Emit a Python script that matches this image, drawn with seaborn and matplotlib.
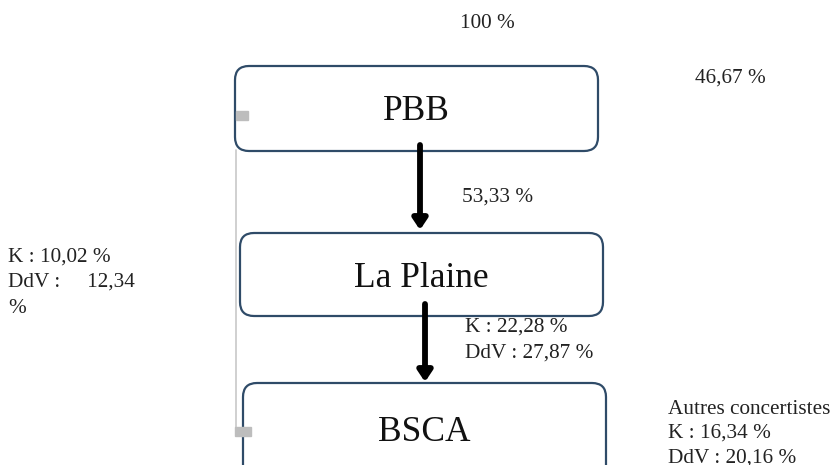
import matplotlib
matplotlib.use("Agg")
import matplotlib.pyplot as plt
from matplotlib.patches import FancyBboxPatch, Rectangle
import seaborn as sns

sns.set_theme(style="white")
plt.rcParams["font.family"] = ["Liberation Serif", "DejaVu Serif"]

# entities of the chain, top to bottom
entities = ["PBB", "La Plaine", "BSCA"]
top_share = "100 %"
side_share = "46,67 %"
flow_share = "53,33 %"
left_note = ["K : 10,02 %", "DdV :     12,34", "%"]
mid_note = ["K : 22,28 %", "DdV : 27,87 %"]
right_note = ["Autres concertistes", "K : 16,34 %", "DdV : 20,16 %"]

# layout (pixel space): x, y, w, h, label offset
boxes = [(235, 66, 363, 85, 45), (240, 233, 363, 83, 45), (243, 383, 363, 100, 49)]
edge = "#2f4b68"

fig = plt.figure(figsize=(8.34, 4.65), dpi=100)
ax = fig.add_axes([0, 0, 1, 1])
ax.set_xlim(0, 834)
ax.set_ylim(465, 0)
ax.axis("off")

# thin grey connector on the left
ax.plot([236, 236], [150, 432], color="#c8c8c8", lw=1.2, zorder=1)

for name, (x, y, w, h, off) in zip(entities, boxes):
    ax.add_patch(FancyBboxPatch((x, y), w, h,
                                boxstyle="round,pad=0,rounding_size=14",
                                fc="white", ec=edge, lw=1.6, zorder=2))
    ax.text(x + w / 2, y + off, name, ha="center", va="center",
            fontsize=25.5, color="#111111", zorder=3)

# small grey markers
ax.add_patch(Rectangle((236, 111), 12, 9, color="#bdbdbd", zorder=4))
ax.add_patch(Rectangle((235, 427), 16, 9, color="#bdbdbd", zorder=4))

# arrows
for x0, y0, y1 in [(420, 145, 230), (425, 304, 382)]:
    ax.annotate("", xy=(x0, y1), xytext=(x0, y0),
                arrowprops=dict(arrowstyle="-|>,head_width=0.3,head_length=0.45",
                                lw=4.2, color="black", mutation_scale=14,
                                shrinkA=0, shrinkB=0), zorder=5)

fs = 15.3
tc = "#222222"
ax.text(487, 24, top_share, ha="center", va="center", fontsize=fs, color=tc)
ax.text(695, 78, side_share, ha="left", va="center", fontsize=fs, color=tc)
ax.text(462, 197, flow_share, ha="left", va="center", fontsize=fs, color=tc)

for i, s in enumerate(left_note):
    ax.text(8, 257 + i * 25.5, s, ha="left", va="center", fontsize=fs, color=tc)
for i, s in enumerate(mid_note):
    ax.text(465, 327 + i * 26, s, ha="left", va="center", fontsize=fs, color=tc)
for i, s in enumerate(right_note):
    ax.text(668, 409 + i * 24.5, s, ha="left", va="center", fontsize=fs, color=tc)

fig.savefig("out.png", dpi=100)
